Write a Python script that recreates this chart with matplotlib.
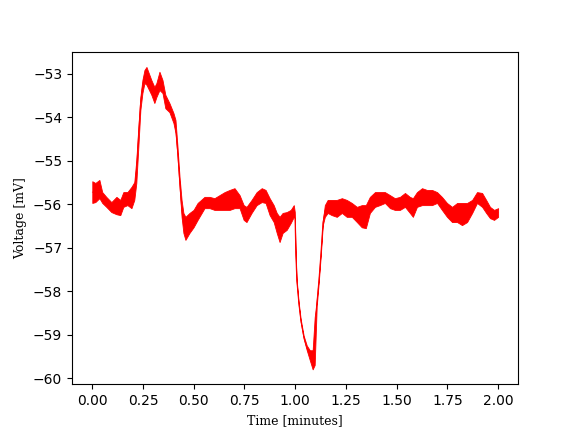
import matplotlib
matplotlib.use('Agg')
from matplotlib import pyplot as plt

# time [minutes] and the upper / lower edge of the noisy voltage trace [mV]
time = [0.000, 0.015, 0.035, 0.049, 0.069, 0.094, 0.119, 0.138, 0.153, 0.173,
        0.193, 0.207, 0.217, 0.227, 0.237, 0.247, 0.257, 0.267, 0.291, 0.306,
        0.316, 0.331, 0.346, 0.360, 0.380, 0.400, 0.410, 0.420, 0.430, 0.440,
        0.449, 0.459, 0.479, 0.499, 0.519, 0.553, 0.578, 0.602, 0.627, 0.652,
        0.677, 0.701, 0.726, 0.746, 0.760, 0.785, 0.810, 0.835, 0.854, 0.874,
        0.894, 0.909, 0.923, 0.938, 0.958, 0.978, 0.993, 0.998, 1.002, 1.007,
        1.017, 1.027, 1.042, 1.057, 1.072, 1.086, 1.096, 1.106, 1.116, 1.126,
        1.136, 1.146, 1.160, 1.180, 1.205, 1.230, 1.254, 1.279, 1.304, 1.328,
        1.348, 1.368, 1.393, 1.417, 1.442, 1.467, 1.491, 1.516, 1.541, 1.565,
        1.580, 1.600, 1.625, 1.649, 1.674, 1.699, 1.723, 1.748, 1.773, 1.798,
        1.822, 1.847, 1.872, 1.896, 1.921, 1.941, 1.960, 1.980, 2.000]

upper = [-55.47, -55.51, -55.44, -55.72, -55.83, -55.95, -55.83, -55.90, -55.72, -55.72,
         -55.60, -55.49, -54.98, -54.22, -53.53, -53.14, -52.91, -52.84, -53.14, -53.30,
         -53.21, -52.95, -53.14, -53.48, -53.67, -53.90, -54.06, -54.68, -55.37, -55.90,
         -56.20, -56.29, -56.20, -56.13, -55.97, -55.83, -55.83, -55.86, -55.79, -55.72,
         -55.67, -55.63, -55.79, -56.02, -56.06, -55.90, -55.72, -55.63, -55.67, -55.86,
         -56.02, -56.20, -56.29, -56.20, -56.18, -56.13, -56.02, -56.18, -57.08, -57.72,
         -58.25, -58.64, -59.03, -59.25, -59.36, -59.36, -58.60, -58.20, -57.70, -57.08,
         -56.38, -56.02, -55.90, -55.90, -55.90, -55.86, -55.90, -55.97, -56.06, -56.02,
         -56.02, -55.83, -55.72, -55.72, -55.72, -55.79, -55.86, -55.83, -55.74, -55.83,
         -55.86, -55.72, -55.63, -55.67, -55.67, -55.72, -55.83, -55.97, -56.06, -55.97,
         -55.97, -55.97, -55.90, -55.72, -55.74, -55.90, -56.06, -56.13, -56.09]

lower = [-55.97, -55.95, -55.86, -55.97, -56.06, -56.18, -56.23, -56.25, -56.06, -56.02,
         -56.09, -55.90, -55.51, -54.68, -53.83, -53.44, -53.21, -53.25, -53.48, -53.67,
         -53.53, -53.37, -53.44, -53.79, -53.88, -54.13, -54.36, -54.91, -55.60, -56.29,
         -56.66, -56.82, -56.66, -56.53, -56.36, -56.09, -56.09, -56.13, -56.13, -56.13,
         -56.13, -56.09, -56.09, -56.36, -56.41, -56.20, -56.02, -55.95, -55.97, -56.25,
         -56.41, -56.66, -56.87, -56.66, -56.59, -56.43, -56.29, -56.32, -57.16, -57.78,
         -58.31, -58.71, -59.10, -59.36, -59.59, -59.80, -59.70, -58.35, -57.80, -57.18,
         -56.48, -56.29, -56.20, -56.25, -56.29, -56.20, -56.29, -56.29, -56.41, -56.53,
         -56.55, -56.20, -56.06, -56.02, -55.97, -56.09, -56.13, -56.13, -56.06, -56.20,
         -56.29, -56.06, -56.02, -56.02, -56.02, -55.97, -56.13, -56.29, -56.41, -56.41,
         -56.48, -56.41, -56.20, -55.97, -56.06, -56.20, -56.32, -56.36, -56.29]

fig, ax = plt.subplots(figsize=(5.76, 4.32), dpi=100)

ax.fill_between(time, lower, upper, color='red', linewidth=0.6, edgecolor='red')
mid = [(u + l) / 2 for u, l in zip(upper, lower)]
ax.plot(time, mid, color='red', linewidth=0.5)

ax.set_xlabel('Time [minutes]', family='DejaVu Serif', fontsize=9)
ax.set_ylabel('Voltage [mV]', family='DejaVu Serif', fontsize=9)

fig.savefig('out.png')
